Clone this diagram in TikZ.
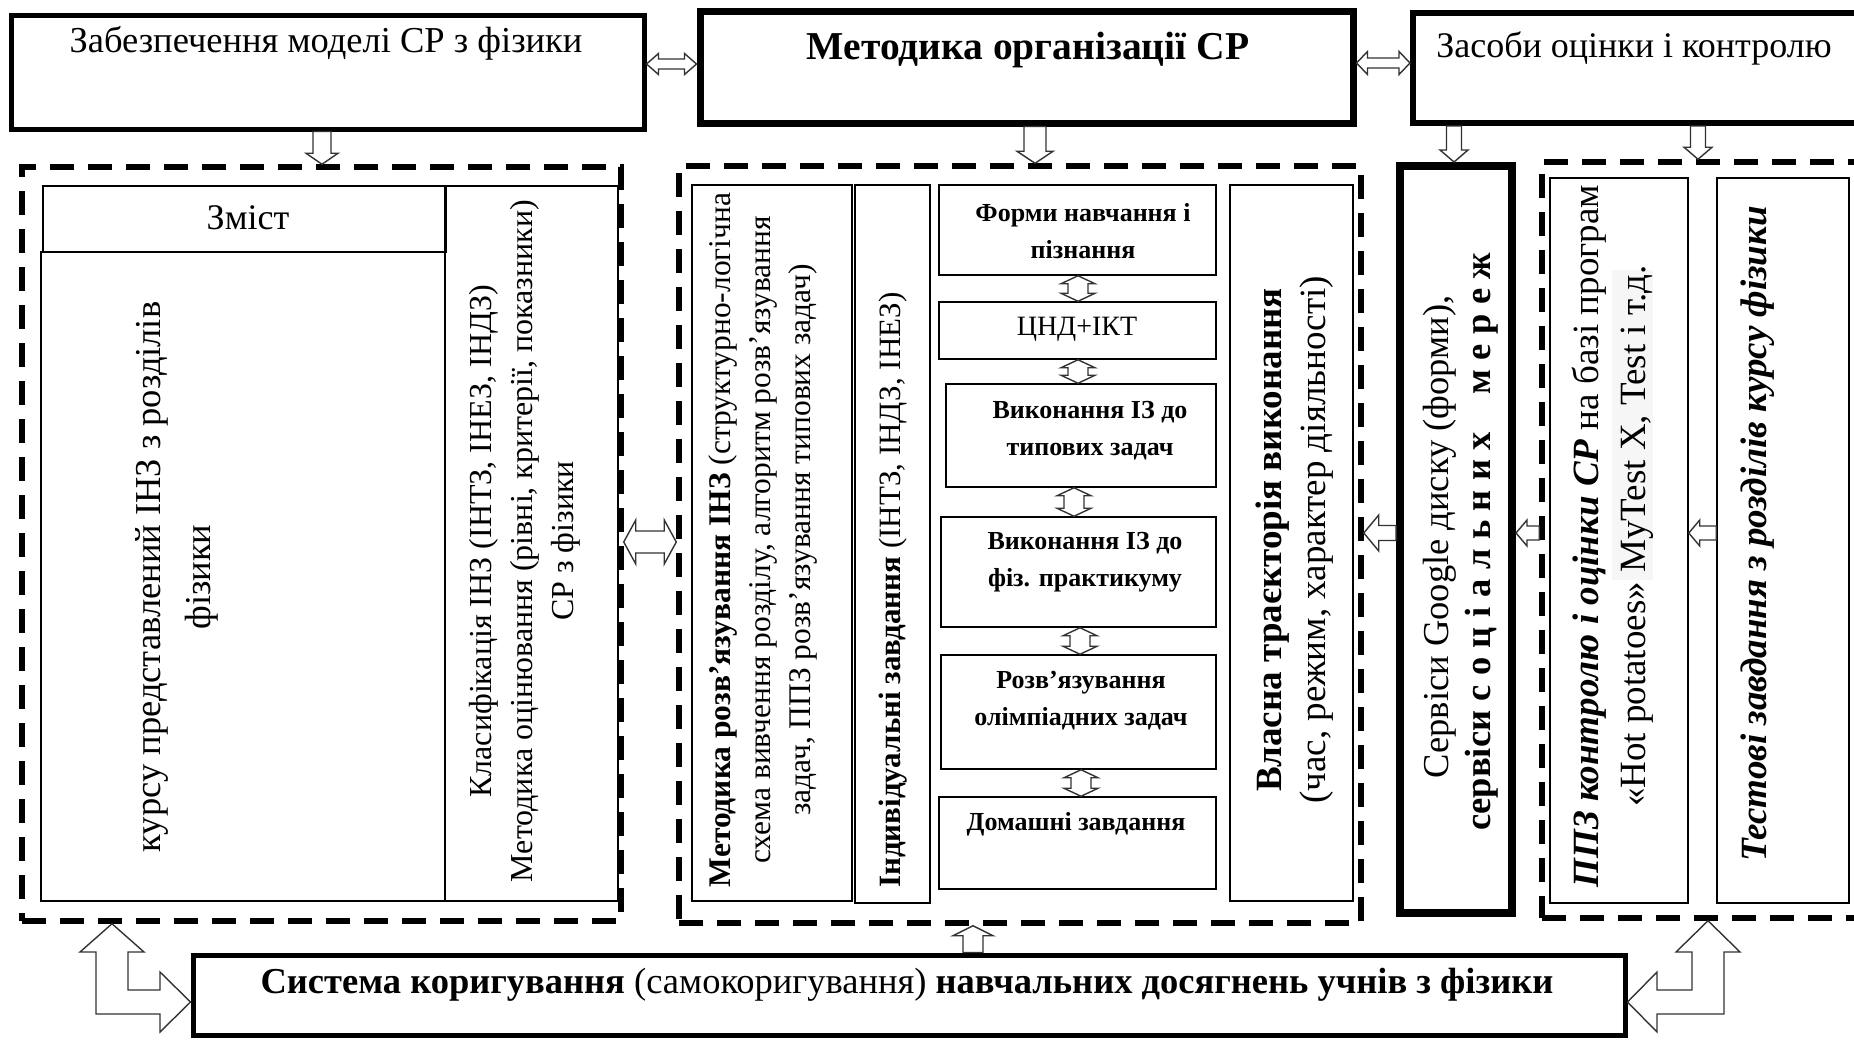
\documentclass[tikz,border=0pt]{standalone}
\usepackage{fontspec}
\setmainfont{Liberation Serif}
\usetikzlibrary{calc}
% single block arrow: from, to (tip), shaft half width, head half width, head length
\newcommand\myarrow[5]{%
  \coordinate (ah) at ($#2!#5!#1$);
  \draw[hollow] ($#1!#3!90:#2$) -- ($(ah)!#3!-90:#1$) -- ($(ah)!#4!-90:#1$) -- #2
    -- ($(ah)!#4!90:#1$) -- ($(ah)!#3!90:#1$) -- ($#1!#3!-90:#2$) -- cycle;}
% double block arrow
\newcommand\mydarrow[5]{%
  \coordinate (dah) at ($#1!#5!#2$);
  \coordinate (dbh) at ($#2!#5!#1$);
  \draw[hollow] #1 -- ($(dah)!#4!90:#2$) -- ($(dah)!#3!90:#2$) -- ($(dbh)!#3!-90:#1$)
    -- ($(dbh)!#4!-90:#1$) -- #2 -- ($(dbh)!#4!90:#1$) -- ($(dbh)!#3!90:#1$)
    -- ($(dah)!#3!-90:#2$) -- ($(dah)!#4!-90:#2$) -- cycle;}
\begin{document}
\begin{tikzpicture}[x=1pt,y=-1pt,
  every node/.style={inner sep=0pt},
  thickbox/.style={draw, line width=#1},
  thinbox/.style={draw, line width=1.5pt},
  dbox/.style={draw, line width=5.5pt, dash pattern=on 24pt off 14pt},
  hollow/.style={draw=black!80, line width=1.4pt, fill=white, line join=miter},
  txt/.style={font=\fontsize{36}{44}\selectfont, align=center},
  kur/.style={font=\fontsize{36.5}{50}\selectfont, align=center},
  kl/.style={font=\fontsize{32}{41}\selectfont, align=center},
  mone/.style={font=\fontsize{31.5}{40}\selectfont, align=center},
  stk/.style={font=\fontsize{26}{37}\selectfont\bfseries, align=center},
  mfour/.style={font=\fontsize{37}{44}\selectfont, align=center},
  ggt/.style={font=\fontsize{36.5}{42}\selectfont, align=center},
  pone/.style={font=\fontsize{37}{47}\selectfont, align=center}]
\useasboundingbox (0,0) rectangle (1854,1039);

% ---------- top boxes
\node[thickbox=5pt, minimum width=633, minimum height=114] (A) at (327.5,72) {};
\node[thickbox=7pt, minimum width=653, minimum height=112] (B) at (1026.5,67) {};
\node[thickbox=6pt, minimum width=467, minimum height=110] (C) at (1646.5,68) {};
\node[txt, font=\fontsize{36.5}{44}\selectfont] (tA) at (326,43) {Забезпечення моделі СР з фізики};
\node[txt, font=\fontsize{39.5}{46}\selectfont\bfseries] (tB) at (1028,50) {Методика організації СР};
\node[txt] (tC) at (1634,48) {Засоби оцінки і контролю};

% ---------- group 1
\node[dbox, minimum width=599, minimum height=754] (G1) at (321.5,544) {};
\node[thinbox, minimum width=403, minimum height=66] (Zm) at (244.5,219) {};
\node[thinbox, minimum width=404, minimum height=649] (Ku) at (243,576.5) {};
\node[thinbox, minimum width=173, minimum height=715] (Kl) at (531.5,543.5) {};
\node[txt] (tZm) at (248,218) {Зміст};
\node[kur, rotate=90] (tKu) at (177,577) {курсу представлений ІНЗ з розділів\\фізики};
\node[kl, rotate=90] (tKl) at (525,541) {Класифікація ІНЗ (ІНТЗ, ІНЕЗ, ІНДЗ)\\Методика оцінювання (рівні, критерії, показники)\\СР з фізики};

% ---------- group 2
\node[dbox, minimum width=682, minimum height=757] (G2) at (1020,544.5) {};
\node[thinbox, minimum width=160, minimum height=716] (M1) at (772,543) {};
\node[thinbox, minimum width=75, minimum height=718] (M2) at (892.5,544) {};
\node[thinbox, minimum width=277, minimum height=90] (F1) at (1077.5,230) {};
\node[thinbox, minimum width=277, minimum height=57] (F2) at (1077.5,330.5) {};
\node[thinbox, minimum width=270, minimum height=103] (F3) at (1081,435.5) {};
\node[thinbox, minimum width=275, minimum height=110] (F4) at (1078.5,572) {};
\node[thinbox, minimum width=275, minimum height=114] (F5) at (1078.5,712) {};
\node[thinbox, minimum width=277, minimum height=92] (F6) at (1077.5,843) {};
\node[thinbox, minimum width=123, minimum height=716] (M4) at (1291.5,543) {};
\node[mone, rotate=90] (tM1) at (763,540) {\textbf{Методика розв’язування ІНЗ} (структурно-логічна\\схема вивчення розділу, алгоритм розв’язування\\задач, ППЗ розв’язування типових задач)};
\node[txt, rotate=90, font=\fontsize{31}{38}\selectfont] (tM2) at (893,590) {\textbf{Індивідуальні завдання} (ІНТЗ, ІНДЗ, ІНЕЗ)};
\node[stk] (tF1) at (1083,231) {Форми навчання і\\пізнання};
\node[stk, font=\fontsize{28}{34}\selectfont\mdseries] (tF2) at (1077,329) {ЦНД+ІКТ};
\node[stk] (tF3) at (1090,431) {Виконання ІЗ до\\типових задач};
\node[stk] (tF4) at (1085,562) {Виконання ІЗ до\\фіз. практикуму};
\node[stk] (tF5) at (1081,701) {Розв’язування\\олімпіадних задач};
\node[stk] (tF6) at (1076,824) {Домашні завдання};
\node[mfour, rotate=90] (tM4) at (1295,540) {\textbf{Власна траєкторія виконання}\\(час, режим, характер діяльності)};

% ---------- Google box
\node[thickbox=8pt, minimum width=112, minimum height=747] (GG) at (1456,539.5) {};
\node[ggt, rotate=90] (tGG) at (1461,537) {Сервіси Google диску (форми),\\\textbf{сервіси {\addfontfeatures{LetterSpace=26}соціальних\ \ мереж}}};

% ---------- group 4
\node[dbox, minimum width=338, minimum height=756] (G4) at (1711,540) {};
\node[thinbox, minimum width=138, minimum height=725] (P1) at (1619,540.5) {};
\node[thinbox, minimum width=132, minimum height=725] (P2) at (1783,540.5) {};
\fill[gray!7] (1612,270) rectangle (1653,580);
\node[pone, rotate=90] (tP1) at (1613,536) {\textbf{\textit{ППЗ контролю і оцінки СР}} на базі програм\\«Hot potatoes» MyTest X, Test і т.д.};
\node[txt, rotate=90, font=\fontsize{37}{44}\selectfont\bfseries\itshape] (tP2) at (1758,534) {Тестові завдання з розділів курсу фізики};

% ---------- bottom box
\node[thickbox=5pt, minimum width=1432, minimum height=80] (SYS) at (909,995) {};
\node[txt, font=\fontsize{36.5}{44}\selectfont] (tSYS) at (907,985) {\textbf{Система коригування} (самокоригування) \textbf{навчальних досягнень учнів з фізики}};

% ---------- arrows
\mydarrow{(A.east |- 0,64)}{(B.west |- 0,64)}{5pt}{10.5pt}{12pt}
\mydarrow{(B.east |- 0,63)}{(C.west |- 0,63)}{5pt}{11.5pt}{11pt}
\myarrow{(A.south -| 322,0)}{(G1.north -| 322,0)}{9pt}{16pt}{11pt}
\myarrow{(B.south -| 1035,0)}{(G2.north -| 1035,0)}{11pt}{18pt}{12pt}
\myarrow{(C.south -| 1454,0)}{(GG.north -| 1454,0)}{7.5pt}{14pt}{12pt}
\myarrow{(C.south -| 1698,0)}{(G4.north -| 1698,0)}{7.5pt}{14pt}{12pt}
\mydarrow{(G1.east |- 0,542)}{(G2.west |- 0,542)}{11pt}{22pt}{12pt}
\myarrow{(GG.west |- 0,533)}{(G2.east |- 0,533)}{7.5pt}{18pt}{15pt}
\myarrow{(G4.west |- 0,533)}{(GG.east |- 0,533)}{7pt}{13pt}{11pt}
\myarrow{(P2.west |- 0,533)}{(P1.east |- 0,533)}{7pt}{13pt}{11pt}
\myarrow{(SYS.north -| 973,0)}{(G2.south -| 973,0)}{10pt}{20pt}{10pt}
\mydarrow{(F1.south -| 1078,0)}{(F2.north -| 1078,0)}{10pt}{17pt}{8pt}
\mydarrow{(F2.south -| 1078,0)}{(F3.north -| 1078,0)}{10pt}{17pt}{8pt}
\mydarrow{(F3.south -| 1074,0)}{(F4.north -| 1074,0)}{10pt}{17pt}{8pt}
\mydarrow{(F4.south -| 1080,0)}{(F5.north -| 1080,0)}{10pt}{17pt}{8pt}
\mydarrow{(F5.south -| 1081,0)}{(F6.north -| 1081,0)}{10pt}{17pt}{8pt}
% bent arrows between the groups and the bottom box
\draw[hollow] (112,0 |- G1.south) -- (144,952) -- (128,952) -- (128,990) -- (160,990)
  -- (160,972) -- (SYS.west |- 0,1002) -- (160,1032) -- (160,1014) -- (96,1014)
  -- (96,952) -- (80,952) -- cycle;
\draw[hollow] (1708,0 |- G4.south) -- (1676,952) -- (1692,952) -- (1692,990) -- (1657,990)
  -- (1657,972) -- (SYS.east |- 0,1002) -- (1657,1032) -- (1657,1014) -- (1724,1014)
  -- (1724,952) -- (1740,952) -- cycle;
\end{tikzpicture}
\end{document}
